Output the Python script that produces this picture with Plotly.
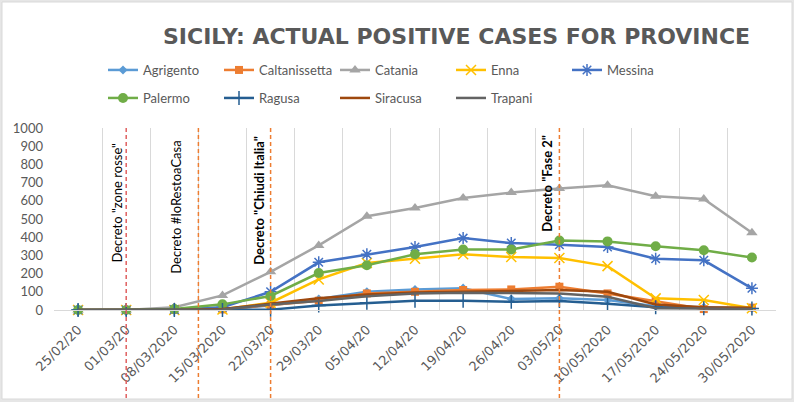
import plotly.graph_objects as go

dates = ["25/02/20", "01/03/20", "08/03/2020", "15/03/2020", "22/03/20", "29/03/20",
         "05/04/20", "12/04/20", "19/04/20", "26/04/20", "03/05/20", "10/05/2020",
         "17/05/2020", "24/05/2020", "30/05/2020"]

agrigento = [0, 0, 2, 5, 25, 60, 100, 113, 120, 60, 64, 55, 20, 15, 10]
caltanissetta = [0, 0, 0, 3, 27, 51, 91, 100, 110, 113, 128, 91, 50, 5, 13]
catania = [0, 0, 15, 80, 210, 355, 515, 560, 615, 645, 668, 685, 625, 610, 425]
enna = [0, 0, 0, 3, 40, 168, 258, 282, 306, 291, 286, 241, 64, 55, 10]
messina = [0, 0, 2, 15, 100, 262, 306, 346, 395, 368, 358, 346, 282, 273, 119]
palermo = [0, 0, 5, 31, 77, 203, 246, 306, 332, 332, 382, 377, 350, 328, 288]
ragusa = [0, 0, 0, 0, 2, 25, 40, 51, 51, 45, 50, 35, 15, 10, 8]
siracusa = [0, 0, 0, 5, 35, 65, 85, 96, 100, 105, 110, 100, 30, 15, 12]
trapani = [0, 0, 0, 3, 30, 50, 75, 91, 95, 91, 91, 73, 10, 8, 5]

event_x = [1, 2.5, 4, 10]
event_labels = ['Decreto "zone rosse"', 'Decreto #IoRestoaCasa',
                'Decreto "Chiudi Italia"', 'Decreto "Fase 2"']
event_bold = [False, False, True, True]
event_colors = ["#E06060", "#ED7D31", "#ED7D31", "#ED7D31"]
event_label_y = [586, 564, 603, 696]
event_label_shift = [-9, -22, -11, -12]

title_text = "SICILY: ACTUAL POSITIVE CASES FOR PROVINCE"
FONT = "Lato"
GRAY = "#595959"

series = [
    ("Agrigento", agrigento, "#5B9BD5", dict(symbol="diamond", size=7), "legend"),
    ("Caltanissetta", caltanissetta, "#ED7D31", dict(symbol="square", size=8), "legend"),
    ("Catania", catania, "#A5A5A5", dict(symbol="triangle-up", size=10), "legend"),
    ("Enna", enna, "#FFC000", dict(symbol="x-thin-open", size=10, line=dict(width=1.5, color="#FFC000")), "legend"),
    ("Messina", messina, "#4472C4", dict(symbol="asterisk-open", size=10, line=dict(width=1.5, color="#4472C4")), "legend"),
    ("Palermo", palermo, "#70AD47", dict(symbol="circle", size=10), "legend2"),
    ("Ragusa", ragusa, "#255E91", dict(symbol="cross-thin-open", size=10, line=dict(width=1.5, color="#255E91")), "legend2"),
    ("Siracusa", siracusa, "#9E480E", None, "legend2"),
    ("Trapani", trapani, "#636363", None, "legend2"),
]

fig = go.Figure()
for name, vals, color, marker, leg in series:
    if marker is None:
        fig.add_trace(go.Scatter(x=dates, y=vals, name=name, mode="lines",
                                 line=dict(color=color, width=2.5), cliponaxis=False,
                                 legend=leg))
    else:
        m = dict(color=color)
        m.update(marker)
        fig.add_trace(go.Scatter(x=dates, y=vals, name=name, mode="lines+markers",
                                 line=dict(color=color, width=2.5), marker=m,
                                 cliponaxis=False, legend=leg))

L, R, T, B = 54, 18, 128, 92
W, H = 794, 402
pw, ph = W - L - R, H - T - B

def px_x(p):
    return (p - L) / pw

def px_y(p):
    return (H - B - p) / ph

shapes = [dict(type="rect", xref="paper", yref="paper",
               x0=px_x(2), x1=px_x(792), y0=px_y(399), y1=px_y(2),
               fillcolor="white", line=dict(color="#d9d9d9", width=1), layer="below")]
annotations = []
for xv, lab, bold, col, ly, sh in zip(event_x, event_labels, event_bold, event_colors,
                                       event_label_y, event_label_shift):
    shapes.append(dict(type="line", xref="x", yref="paper", x0=xv, x1=xv,
                       y0=px_y(398), y1=px_y(126),
                       line=dict(color=col, width=1.5, dash="4px,3px")))
    annotations.append(dict(x=xv, y=ly, xref="x", yref="y", text=(f"<b>{lab}</b>" if bold else lab),
                            textangle=-90, showarrow=False, xshift=sh,
                            font=dict(family=FONT, size=13, color="black"),
                            xanchor="center", yanchor="middle"))

annotations.append(dict(x=px_x(456), y=px_y(36), xref="paper", yref="paper",
                        text=f"<b>{title_text}</b>", showarrow=False,
                        font=dict(family="DejaVu Sans", size=22, color=GRAY),
                        xanchor="center", yanchor="middle"))

fig.update_layout(
    width=W, height=H,
    margin=dict(l=L, r=R, t=T, b=B),
    paper_bgcolor="#e6e6e6", plot_bgcolor="rgba(0,0,0,0)",
    font=dict(family=FONT, color=GRAY, size=13),
    shapes=shapes, annotations=annotations,
    legend=dict(orientation="h", x=px_x(103), y=px_y(70), xanchor="left", yanchor="middle",
                entrywidth=71, entrywidthmode="pixels", bgcolor="rgba(0,0,0,0)",
                font=dict(family=FONT, size=13, color=GRAY), traceorder="normal"),
    legend2=dict(orientation="h", x=px_x(103), y=px_y(98), xanchor="left", yanchor="middle",
                 entrywidth=71, entrywidthmode="pixels", bgcolor="rgba(0,0,0,0)",
                 font=dict(family=FONT, size=13, color=GRAY), traceorder="normal"),
    xaxis=dict(type="category", categoryorder="array", categoryarray=dates,
               range=[-0.5, 14.5], showgrid=True, gridcolor="#d9d9d9", gridwidth=1,
               tickson="boundaries", ticks="", showline=True, linecolor="#d9d9d9",
               tickangle=-45, ticklabelstandoff=6,
               tickfont=dict(family="DejaVu Sans", size=13, color=GRAY),
               zeroline=False, fixedrange=True),
    yaxis=dict(range=[0, 1000], dtick=100, showgrid=False, zeroline=False,
               showline=False, ticks="", ticklabelstandoff=10,
               tickfont=dict(family=FONT, size=13, color=GRAY), fixedrange=True),
)

fig.write_html("out.html", config={"displayModeBar": False},
               post_script="document.body.style.margin='0';document.body.style.overflow='hidden';")
